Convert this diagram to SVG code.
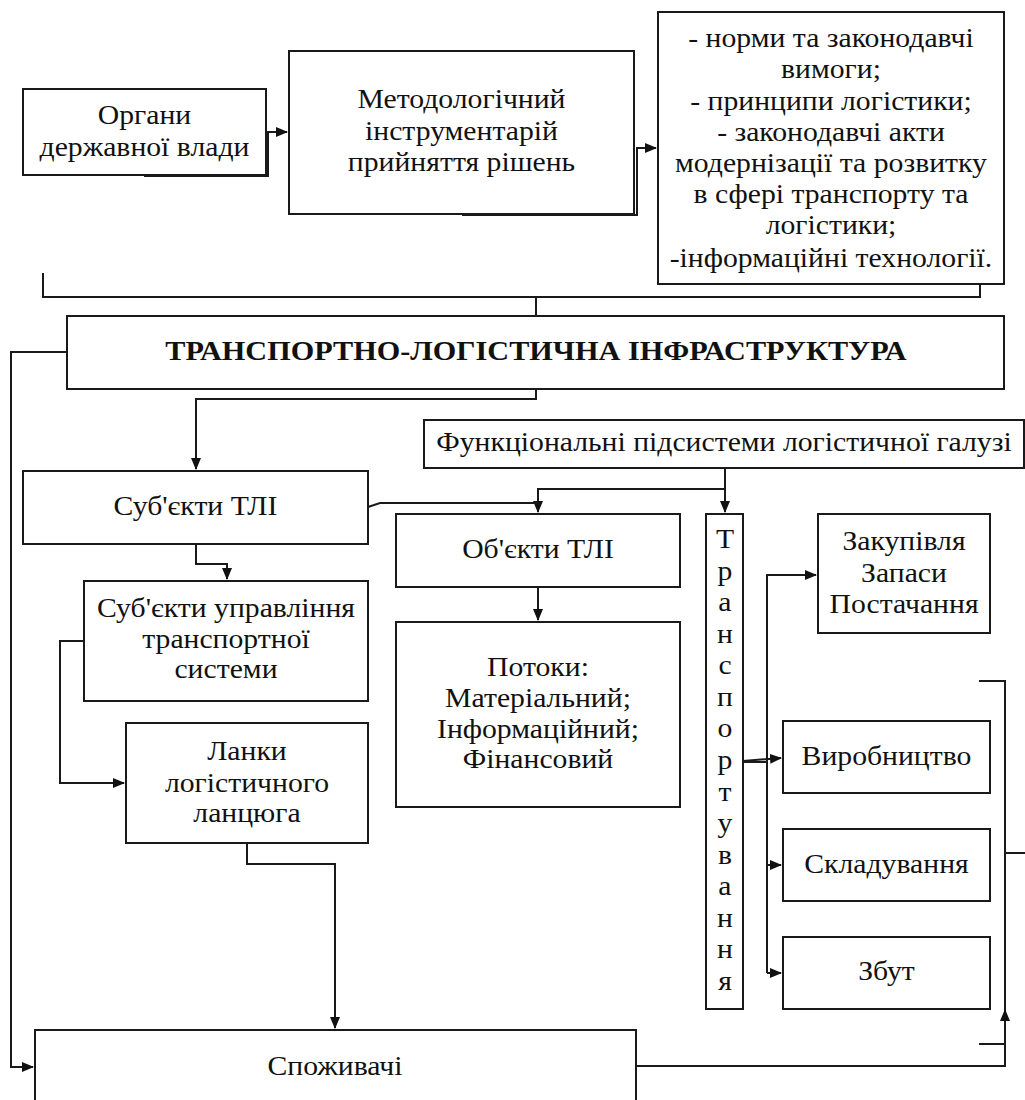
<svg xmlns="http://www.w3.org/2000/svg" width="1025" height="1100" viewBox="0 0 1025 1100">
<style>
.box{fill:#fff;stroke:#1a1a1a;stroke-width:2}
.ln{fill:none;stroke:#1a1a1a;stroke-width:2}
.t{font-family:'Liberation Serif','Times New Roman','DejaVu Serif',serif;font-size:27px;fill:#111;text-anchor:middle;transform-box:fill-box;transform-origin:center;transform:scaleX(1.1)}
.b{font-weight:bold;transform:scaleX(1.12)}
</style>
<defs>
<marker id="ar" markerUnits="userSpaceOnUse" markerWidth="12" markerHeight="10" refX="11" refY="5" orient="auto">
<path d="M0,0 L12,5 L0,10 z" fill="#111"/>
</marker>
</defs>
<g id="connectors">
<path class="ln" d="M144,176 H268 V132 H287" marker-end="url(#ar)"/>
<path class="ln" d="M462,215 H637 V148 H656" marker-end="url(#ar)"/>
<path class="ln" d="M43,273 V297 H980 V273"/>
<path class="ln" d="M536,297 V318"/>
<path class="ln" d="M67,352 H11 V1067 H33" marker-end="url(#ar)"/>
<path class="ln" d="M536,389 V399 H196 V469" marker-end="url(#ar)"/>
<path class="ln" d="M725,468 V512" marker-end="url(#ar)"/>
<path class="ln" d="M725,489 H538 V512" marker-end="url(#ar)"/>
<path class="ln" d="M368,507 L380,503 H538"/>
<path class="ln" d="M538,587 V620" marker-end="url(#ar)"/>
<path class="ln" d="M196,544 V564 H227 V579" marker-end="url(#ar)"/>
<path class="ln" d="M84,641 H60 V783 H124" marker-end="url(#ar)"/>
<path class="ln" d="M247,843 V864 H335 V1028" marker-end="url(#ar)"/>
<path class="ln" d="M767,973 V575 H816" marker-end="url(#ar)"/>
<path class="ln" d="M743,762 H767"/>
<path class="ln" d="M743,761 L781,758" marker-end="url(#ar)"/>
<path class="ln" d="M767,865 H781" marker-end="url(#ar)"/>
<path class="ln" d="M767,973 H781" marker-end="url(#ar)"/>
<path class="ln" d="M979,681 H1005 V1067"/>
<path class="ln" d="M979,1044 H1005"/>
<path class="ln" d="M1005,853 H1025"/>
<path class="ln" d="M636,1066 H1005 V1010" marker-end="url(#ar)"/>
</g>
<g id="organy">
<rect class="box" x="23" y="89" width="243" height="86"/>
<text class="t" x="144.5" y="124">Органи</text>
<text class="t" x="144.5" y="156">державної влади</text>
</g>
<g id="metod">
<rect class="box" x="289" y="51" width="345" height="163"/>
<text class="t" x="461.5" y="108">Методологічний</text>
<text class="t" x="461.5" y="140">інструментарій</text>
<text class="t" x="461.5" y="171">прийняття рішень</text>
</g>
<g id="normy">
<rect class="box" x="658" y="12" width="346" height="272"/>
<text class="t" x="831" y="47">- норми та законодавчі</text>
<text class="t" x="831" y="78">вимоги;</text>
<text class="t" x="831" y="110">- принципи логістики;</text>
<text class="t" x="831" y="141">- законодавчі акти</text>
<text class="t" x="831" y="172">модернізації та розвитку</text>
<text class="t" x="831" y="203">в сфері транспорту та</text>
<text class="t" x="831" y="234">логістики;</text>
<text class="t" x="831" y="267">-інформаційні технології.</text>
</g>
<g id="tli">
<rect class="box" x="67" y="316" width="937" height="73"/>
<text class="t b" x="536" y="360">ТРАНСПОРТНО-ЛОГІСТИЧНА ІНФРАСТРУКТУРА</text>
</g>
<g id="funk">
<rect class="box" x="424" y="420" width="600" height="48"/>
<text class="t" x="724" y="451">Функціональні підсистеми логістичної галузі</text>
</g>
<g id="subjekty">
<rect class="box" x="23" y="471" width="345" height="73"/>
<text class="t" x="195.5" y="515">Суб'єкти ТЛІ</text>
</g>
<g id="objekty">
<rect class="box" x="396" y="514" width="284" height="73"/>
<text class="t" x="538" y="558">Об'єкти ТЛІ</text>
</g>
<g id="potoky">
<rect class="box" x="396" y="622" width="284" height="185"/>
<text class="t" x="538" y="676">Потоки:</text>
<text class="t" x="538" y="707">Матеріальний;</text>
<text class="t" x="538" y="738">Інформаційний;</text>
<text class="t" x="538" y="768">Фінансовий</text>
</g>
<g id="upravlinnia">
<rect class="box" x="84" y="581" width="284" height="120"/>
<text class="t" x="226" y="617">Суб'єкти управління</text>
<text class="t" x="226" y="648">транспортної</text>
<text class="t" x="226" y="678">системи</text>
</g>
<g id="lanky">
<rect class="box" x="126" y="723" width="242" height="120"/>
<text class="t" x="247" y="760">Ланки</text>
<text class="t" x="247" y="792">логістичного</text>
<text class="t" x="247" y="822">ланцюга</text>
</g>
<g id="transport">
<rect class="box" x="706" y="514" width="37" height="495"/>
<text class="t" x="725" y="548">Т</text>
<text class="t" x="725" y="580">р</text>
<text class="t" x="725" y="611">а</text>
<text class="t" x="725" y="643">н</text>
<text class="t" x="725" y="674">с</text>
<text class="t" x="725" y="706">п</text>
<text class="t" x="725" y="737">о</text>
<text class="t" x="725" y="769">р</text>
<text class="t" x="725" y="801">т</text>
<text class="t" x="725" y="832">у</text>
<text class="t" x="725" y="864">в</text>
<text class="t" x="725" y="895">а</text>
<text class="t" x="725" y="927">н</text>
<text class="t" x="725" y="958">н</text>
<text class="t" x="725" y="990">я</text>
</g>
<g id="zakupivlia">
<rect class="box" x="818" y="514" width="172" height="119"/>
<text class="t" x="904" y="550">Закупівля</text>
<text class="t" x="904" y="582">Запаси</text>
<text class="t" x="904" y="613">Постачання</text>
</g>
<g id="vyrobnytstvo">
<rect class="box" x="783" y="721" width="207" height="72"/>
<text class="t" x="886.5" y="765">Виробництво</text>
</g>
<g id="skladuvannia">
<rect class="box" x="783" y="829" width="207" height="72"/>
<text class="t" x="886.5" y="873">Складування</text>
</g>
<g id="zbut">
<rect class="box" x="783" y="937" width="207" height="72"/>
<text class="t" x="886.5" y="980">Збут</text>
</g>
<g id="spozhyvachi">
<rect class="box" x="35" y="1030" width="601" height="80"/>
<text class="t" x="335" y="1075">Споживачі</text>
</g>
</svg>
